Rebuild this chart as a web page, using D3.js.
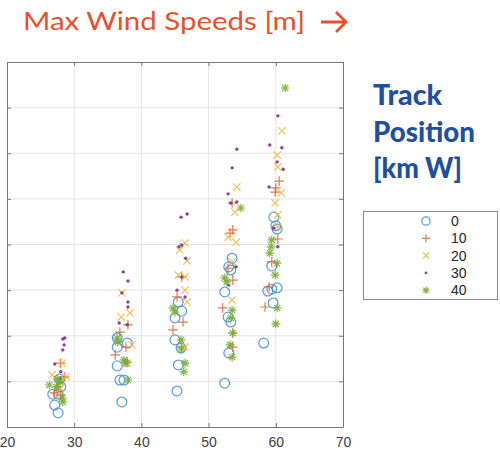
<!DOCTYPE html>
<html>
<head>
<meta charset="utf-8">
<script src="https://cdn.jsdelivr.net/npm/d3@7"></script>
<style>
  html, body { margin: 0; padding: 0; background: #fff; }
  svg { display: block; }
</style>
</head>
<body>
<script>
// ---------------- DATA ----------------
const trackPositions = ["0", "10", "20", "30", "40"];
const xTicks = [20, 30, 40, 50, 60, 70];
const yTicks = [0, 1, 2, 3, 4, 5, 6, 7, 8];

// [max wind speed, value] pairs per track position
const points0 = [
  [27.6,0.31],[27.1,0.48],[26.8,0.72],[27.6,0.72],[28.0,0.88],[27.8,1.05],
  [36.4,1.95],[36.4,1.75],[37.9,1.84],[36.4,1.34],[36.8,1.03],[37.4,1.03],[37.1,0.55],
  [45.5,2.74],[46.0,2.54],[45.0,2.39],[45.0,1.91],[45.9,1.73],[45.5,1.36],[45.3,0.79],
  [53.5,3.70],[53.0,3.51],[53.3,3.44],[52.4,2.96],[52.9,2.41],[53.3,2.30],[53.0,1.62],[52.4,0.96],
  [59.7,4.60],[60.0,4.41],[60.2,4.34],[59.4,3.53],[60.2,3.05],[59.4,3.02],[58.8,2.98],[59.6,2.72],[58.2,1.84]
];
const points10 = [
  [28.0,1.40],[28.6,1.10],[27.1,0.75],[27.6,0.88],[28.0,0.70],
  [38.0,2.24],[36.8,2.08],[36.1,1.58],[37.7,1.75],[37.9,1.42],
  [46.0,3.29],[45.3,2.85],[46.2,2.30],[44.7,2.13],[46.0,1.75],
  [53.5,4.91],[53.6,4.32],[53.2,4.25],[52.9,3.48],[53.6,3.22],[52.1,2.61],[53.6,2.06],[53.6,1.75],
  [60.5,5.39],[60.0,5.24],[59.9,5.15],[60.3,4.12],[59.4,3.62],[59.0,3.07],[58.4,2.63]
];
const points20 = [
  [28.2,1.40],[26.7,1.14],[28.8,1.10],[27.9,0.85],
  [37.1,2.94],[37.0,2.41],[38.3,2.50],[38.6,1.80],[37.9,1.40],
  [46.5,4.03],[45.7,3.88],[46.8,3.64],[45.5,3.33],[46.5,3.29],[46.5,3.00],[46.8,2.74],[46.5,1.75],
  [54.2,5.26],[53.9,4.71],[54.1,4.05],[52.9,4.16],[53.5,3.62],[53.5,2.78],
  [60.9,6.49],[60.2,5.96],[60.3,5.70],[60.8,5.13],[59.9,4.91],[60.3,4.65],[60.3,4.38]
];
const points30 = [
  [28.6,1.95],[28.3,1.93],[28.5,1.80],[28.3,1.69],[27.1,1.38],[28.0,1.21],[27.9,1.07],
  [37.3,3.40],[38.0,3.20],[37.1,2.94],[38.0,2.74],[38.0,2.63],[36.7,2.28],[37.9,2.24],
  [45.9,4.60],[46.8,4.67],[45.6,3.95],[46.0,3.99],[46.6,3.70],[46.0,3.29],[45.3,3.00],[46.5,2.85],
  [54.2,6.09],[53.5,5.68],[52.9,5.11],[54.2,4.93],[53.3,4.91],[54.1,3.51],[53.0,3.11],
  [60.3,6.82],[59.1,6.18],[60.9,6.12],[60.2,5.81],[61.1,5.65],[59.0,5.26],[59.7,4.36],[60.3,3.95]
];
const points40 = [
  [26.3,0.92],[27.4,0.88],[27.9,0.99],[28.3,0.55],[28.2,0.64],[27.5,1.05],
  [36.4,1.95],[36.5,1.86],[37.4,1.47],[37.7,1.40],[38.0,1.03],
  [44.7,2.61],[45.0,2.52],[45.9,1.91],[45.9,1.71],[46.5,1.40],[46.3,1.21],
  [54.8,4.80],[52.4,3.27],[52.7,3.18],[53.5,2.56],[53.3,2.39],[53.6,2.06],[53.2,1.80],[53.5,1.53],
  [61.4,7.43],[59.4,4.10],[59.3,3.95],[59.1,3.81],[60.2,3.59],[59.9,3.33],[60.2,2.61],[60.0,2.26]
];
const seriesPoints = [points0, points10, points20, points30, points40];

// ---------------- STYLE ----------------
const colors = ["#3f8fd2", "#E0632E", "#F0B83A", "#7E2F8E", "#77AC30"];
const markerTypes = ["circle", "plus", "cross", "dot", "star"];

const W = 500, H = 471;
const M = { left: 7, right: 157, top: 62, bottom: 44 };

const svg = d3.select("body").append("svg")
  .attr("width", W).attr("height", H)
  .style("font-family", "'Liberation Sans', Arial, sans-serif");

svg.append("rect").attr("width", W).attr("height", H).attr("fill", "#fff");

const x = d3.scaleLinear().domain([20, 70]).range([M.left, W - M.right]);
const y = d3.scaleLinear().domain([0, 8]).range([H - M.bottom, M.top]);

const plot = svg.append("g");

// grid
plot.append("g").selectAll("line.vg").data(xTicks.slice(1, -1)).join("line")
  .attr("x1", d => x(d)).attr("x2", d => x(d))
  .attr("y1", y(0)).attr("y2", y(8))
  .attr("stroke", "#e4e4e4").attr("stroke-width", 1);
plot.append("g").selectAll("line.hg").data(yTicks.slice(1, -1)).join("line")
  .attr("x1", x(20)).attr("x2", x(70))
  .attr("y1", d => y(d)).attr("y2", d => y(d))
  .attr("stroke", "#e4e4e4").attr("stroke-width", 1);

// axes (box with inward ticks)
const axisColor = "#777";
const xAxisB = d3.axisBottom(x).tickValues(xTicks).tickSizeInner(-4).tickSizeOuter(0).tickPadding(10);
const gxb = plot.append("g").attr("transform", `translate(0,${y(0)})`).call(xAxisB);
gxb.select(".domain").attr("stroke", axisColor);
gxb.selectAll(".tick line").attr("stroke", axisColor);
gxb.selectAll(".tick text").attr("font-size", 14).attr("fill", "#404040")
  .attr("font-family", "'Liberation Sans', Arial, sans-serif");

const xAxisT = d3.axisTop(x).tickValues(xTicks).tickSizeInner(-4).tickSizeOuter(0).tickFormat("");
const gxt = plot.append("g").attr("transform", `translate(0,${y(8)})`).call(xAxisT);
gxt.select(".domain").attr("stroke", axisColor);
gxt.selectAll(".tick line").attr("stroke", axisColor);

const yAxisL = d3.axisLeft(y).tickValues(yTicks).tickSizeInner(-4).tickSizeOuter(0).tickFormat("");
const gyl = plot.append("g").attr("transform", `translate(${x(20)},0)`).call(yAxisL);
gyl.select(".domain").attr("stroke", axisColor);
gyl.selectAll(".tick line").attr("stroke", axisColor);

const yAxisR = d3.axisRight(y).tickValues(yTicks).tickSizeInner(-4).tickSizeOuter(0).tickFormat("");
const gyr = plot.append("g").attr("transform", `translate(${x(70)},0)`).call(yAxisR);
gyr.select(".domain").attr("stroke", axisColor);
gyr.selectAll(".tick line").attr("stroke", axisColor);

// markers
function drawMarker(g, type, color, scale) {
  const s = scale || 1;
  if (type === "circle") {
    g.append("circle").attr("r", 4.9 * s).attr("fill", "none")
      .attr("stroke", color).attr("stroke-width", 1.25).attr("opacity", 0.85);
  } else if (type === "plus") {
    const r = 4.8 * s;
    g.append("path").attr("d", `M${-r},0H${r}M0,${-r}V${r}`)
      .attr("stroke", color).attr("stroke-width", 1.2).attr("opacity", 0.85);
  } else if (type === "cross") {
    const r = 3.7 * s;
    g.append("path").attr("d", `M${-r},${-r}L${r},${r}M${-r},${r}L${r},${-r}`)
      .attr("stroke", color).attr("stroke-width", 1.2).attr("opacity", 0.85);
  } else if (type === "dot") {
    g.append("circle").attr("r", 1.7 * s).attr("fill", color).attr("opacity", 0.9);
  } else if (type === "star") {
    const r = 4.3 * s, d = r * 0.72;
    g.append("path").attr("d", `M${-r},0H${r}M0,${-r}V${r}M${-d},${-d}L${d},${d}M${-d},${d}L${d},${-d}`)
      .attr("stroke", color).attr("stroke-width", 1.2).attr("opacity", 0.9);
  }
}

seriesPoints.forEach((pts, i) => {
  const g = plot.append("g");
  g.selectAll("g").data(pts).join("g")
    .attr("transform", d => `translate(${x(d[0])},${y(d[1])})`)
    .each(function () { drawMarker(d3.select(this), markerTypes[i], colors[i]); });
});

// legend
const leg = svg.append("g");
leg.append("rect").attr("x", 363.5).attr("y", 211.5).attr("width", 134).attr("height", 88)
  .attr("fill", "#fff").attr("stroke", "#8a8a8a").attr("stroke-width", 1);
trackPositions.forEach((t, i) => {
  const yy = 221 + i * 17.3;
  const g = leg.append("g").attr("transform", `translate(426,${yy})`);
  drawMarker(g, markerTypes[i], colors[i], 0.85);
  leg.append("text").attr("x", 451).attr("y", yy + 5).text(t)
    .attr("font-size", 14).attr("fill", "#262626");
});

// title (orange)
svg.append("text").attr("x", 23).attr("y", 30)
  .text("Max Wind Speeds [m]")
  .attr("font-family", "Lato, 'Open Sans', sans-serif")
  .attr("font-size", 25).attr("fill", "#E8502A")
  .attr("textLength", 282).attr("lengthAdjust", "spacingAndGlyphs");
svg.append("path").attr("d", "M321,22H346M336,12L346,22L336,32")
  .attr("fill", "none").attr("stroke", "#E8502A").attr("stroke-width", 2.8);

// right label (blue)
const blueLines = [
  { t: "Track", y: 105, len: 69 },
  { t: "Position", y: 142, len: 102 },
  { t: "[km W]", y: 178, len: 89 }
];
blueLines.forEach(l => {
  svg.append("text").attr("x", 373).attr("y", l.y).text(l.t)
    .attr("font-family", "Lato, 'Open Sans', sans-serif")
    .attr("font-weight", 900).attr("font-size", 29).attr("fill", "#1F4FA0")
    .attr("textLength", l.len).attr("lengthAdjust", "spacingAndGlyphs");
});
</script>
</body>
</html>
